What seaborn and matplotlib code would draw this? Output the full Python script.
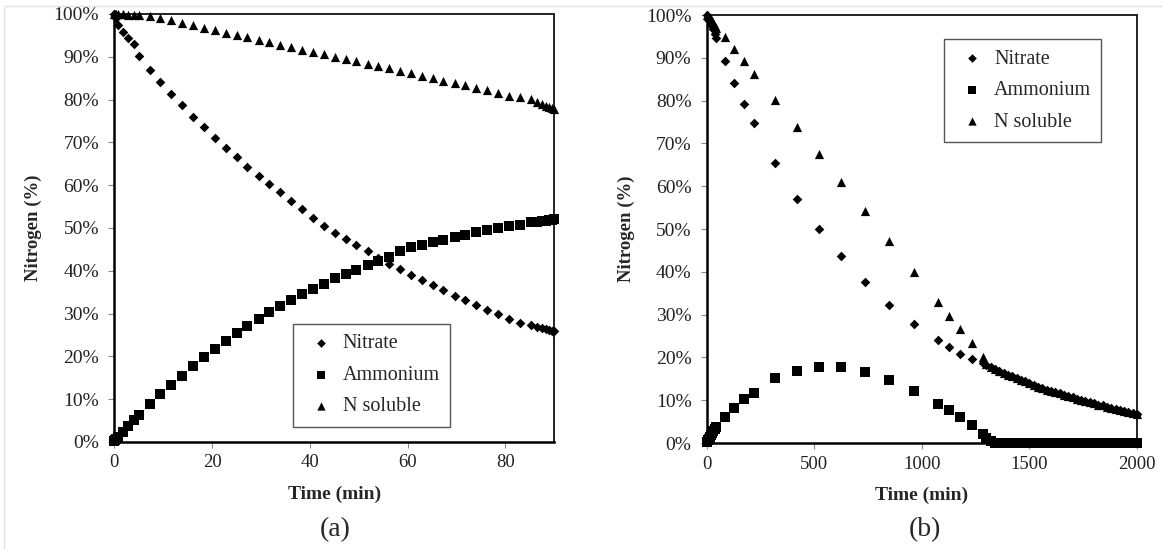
import matplotlib.pyplot as plt
import seaborn as sns
import pandas as pd
from matplotlib.ticker import FuncFormatter
from matplotlib.lines import Line2D

# Panel (a): short run, 0-90 min
time_a = [0, 0.2, 0.4, 0.7, 1.8, 2.9, 4.0, 5.0, 7.2, 9.4,
          11.6, 13.8, 16.1, 18.3, 20.5, 22.8, 25.0, 27.2, 29.5, 31.7,
          33.9, 36.1, 38.4, 40.6, 42.8, 45.1, 47.3, 49.5, 51.8, 54.0,
          56.2, 58.4, 60.7, 62.9, 65.1, 67.3, 69.6, 71.8, 74.0, 76.3,
          78.5, 80.7, 83.0, 85.2, 86.5, 87.5, 88.3, 89.0, 89.6, 90.0]
nitrate_a = [100, 99.6, 99.0, 97.4, 95.8, 94.4, 92.9, 90.1, 87.0, 84.1,
             81.4, 78.8, 76.0, 73.6, 71.0, 68.7, 66.5, 64.3, 62.2, 60.3,
             58.3, 56.3, 54.4, 52.4, 50.5, 48.9, 47.4, 46.0, 44.5, 43.0,
             41.6, 40.3, 39.0, 37.8, 36.6, 35.4, 34.2, 33.1, 32.0, 30.9,
             29.8, 28.8, 27.9, 27.3, 26.9, 26.6, 26.4, 26.2, 26.0, 25.9]
ammonium_a = [0.3, 0.5, 0.8, 1.2, 2.4, 3.8, 5.2, 6.3, 8.8, 11.1,
              13.3, 15.5, 17.7, 19.9, 21.8, 23.6, 25.4, 27.1, 28.8, 30.4,
              31.8, 33.1, 34.5, 35.7, 37.0, 38.2, 39.2, 40.2, 41.3, 42.3,
              43.3, 44.5, 45.5, 46.1, 46.7, 47.3, 47.9, 48.4, 49.0, 49.5,
              50.0, 50.5, 50.8, 51.3, 51.5, 51.6, 51.7, 51.8, 51.9, 52.0]
soluble_a = [100, 100, 99.9, 99.9, 99.9, 99.8, 99.8, 99.7, 99.5, 99.1,
             98.6, 98.0, 97.4, 96.8, 96.2, 95.6, 95.0, 94.5, 94.0, 93.4,
             92.8, 92.2, 91.6, 91.1, 90.6, 90.0, 89.4, 88.9, 88.3, 87.8,
             87.3, 86.7, 86.1, 85.5, 85.0, 84.4, 83.8, 83.3, 82.8, 82.2,
             81.6, 80.9, 80.5, 80.1, 79.4, 79.0, 78.6, 78.3, 78.0, 77.8]

# Panel (b): long run, 0-2000 min
time_b = [0, 5, 10, 15, 20, 25, 30, 40, 45, 85,
          128, 173, 218, 317, 421, 523, 624, 737, 849, 962,
          1074, 1127, 1177, 1231, 1285,
          1300, 1320, 1340, 1360, 1380, 1400, 1420, 1440, 1460, 1480,
          1500, 1520, 1540, 1560, 1580, 1600, 1620, 1640, 1660, 1680,
          1700, 1720, 1740, 1760, 1780, 1800, 1820, 1840, 1860, 1880,
          1900, 1920, 1940, 1960, 1980, 2000]
nitrate_b = [100, 99.5, 99.0, 98.5, 98.0, 97.4, 96.8, 95.6, 94.6, 89.2,
             84.2, 79.2, 74.8, 65.4, 57.1, 50.0, 43.7, 37.7, 32.3, 27.8,
             24.0, 22.5, 20.9, 19.6, 18.8,
             18.2, 17.7, 17.2, 16.8, 16.4, 16.0, 15.6, 15.2, 14.8, 14.4,
             14.0, 13.6, 13.2, 12.9, 12.5, 12.2, 11.9, 11.6, 11.3, 11.0,
             10.7, 10.4, 10.1, 9.8, 9.5, 9.3, 9.0, 8.8, 8.5, 8.3,
             8.0, 7.8, 7.6, 7.3, 7.1, 6.9]
ammonium_b = [0.2, 0.6, 1.0, 1.4, 1.9, 2.3, 2.7, 3.3, 3.7, 6.1,
              8.3, 10.2, 11.8, 15.2, 16.9, 17.8, 17.7, 16.6, 14.8, 12.2,
              9.2, 7.7, 6.0, 4.2, 2.2,
              1.2, 0.4, 0.1, 0, 0, 0, 0, 0, 0, 0,
              0, 0, 0, 0, 0, 0, 0, 0, 0, 0,
              0, 0, 0, 0, 0, 0, 0, 0, 0, 0,
              0, 0, 0, 0, 0, 0]
soluble_b = [100, 99.8, 99.5, 99.2, 98.9, 98.6, 98.2, 97.5, 97.0, 94.9,
             92.0, 89.2, 86.3, 80.1, 73.8, 67.5, 61.0, 54.1, 47.1, 40.0,
             32.9, 29.7, 26.6, 23.3, 20.2,
             18.4, 17.8, 17.3, 16.8, 16.4, 16.0, 15.6, 15.2, 14.8, 14.4,
             14.0, 13.6, 13.2, 12.9, 12.5, 12.2, 11.9, 11.6, 11.3, 11.0,
             10.7, 10.4, 10.1, 9.8, 9.5, 9.3, 9.0, 8.8, 8.5, 8.3,
             8.0, 7.8, 7.6, 7.3, 7.1, 6.9]

species = ['Nitrate', 'Ammonium', 'N soluble']
markers = {'Nitrate': 'D', 'Ammonium': 's', 'N soluble': '^'}
sizes = {'Nitrate': 24, 'Ammonium': 44, 'N soluble': 44}


def make_frame(time, nitrate, ammonium, soluble):
    frames = []
    for name, values in zip(species, [nitrate, ammonium, soluble]):
        frames.append(pd.DataFrame({'time': time, 'nitrogen': values,
                                    'species': name}))
    return pd.concat(frames, ignore_index=True)


def plot_panel(ax, df, xmax, xticks, legend_anchor, legend_loc):
    for name in species:
        sub = df[df['species'] == name]
        sns.scatterplot(data=sub, x='time', y='nitrogen', ax=ax,
                        marker=markers[name], s=sizes[name], color='black',
                        edgecolor='black', linewidth=0, label=name,
                        clip_on=False, zorder=3)
    ax.set_xlim(0, xmax)
    ax.set_ylim(0, 100)
    ax.set_xticks(xticks)
    ax.set_yticks(range(0, 101, 10))
    ax.yaxis.set_major_formatter(FuncFormatter(lambda v, p: f'{v:.0f}%'))
    ax.set_xlabel('Time (min)', fontsize=14, fontweight='bold', labelpad=10)
    ax.set_ylabel('Nitrogen (%)', fontsize=13.5, fontweight='bold',
                  labelpad=8)
    ax.tick_params(axis='both', direction='out', length=4, width=0.8,
                   color='#888888', labelcolor='#222222')
    ax.tick_params(axis='y', pad=7, labelsize=14)
    ax.tick_params(axis='x', pad=5, labelsize=13.5)
    for side in ['left', 'bottom']:
        ax.spines[side].set_linewidth(1.8)
        ax.spines[side].set_color('black')
    for side in ['top', 'right']:
        ax.spines[side].set_visible(True)
        ax.spines[side].set_linewidth(1.4)
        ax.spines[side].set_color('#222222')

    leg = ax.legend(loc=legend_loc, bbox_to_anchor=legend_anchor,
                    fontsize=14.5, frameon=True, fancybox=False,
                    edgecolor='#555555', borderpad=0.5, handlelength=1.8,
                    handletextpad=0.2, labelspacing=0.62, markerscale=0.9,
                    borderaxespad=0)
    leg.get_frame().set_linewidth(1.0)
    leg.get_frame().set_alpha(1)


def main():
    sns.set_style('ticks')
    plt.rcParams['font.family'] = ['Liberation Serif', 'DejaVu Serif']

    df_a = make_frame(time_a, nitrate_a, ammonium_a, soluble_a)
    df_b = make_frame(time_b, nitrate_b, ammonium_b, soluble_b)

    fig = plt.figure(figsize=(11.63, 5.49), dpi=100)
    ax_a = fig.add_axes([0.0983, 0.195, 0.3783, 0.7796])
    ax_b = fig.add_axes([0.6077, 0.193, 0.3700, 0.7796])

    plot_panel(ax_a, df_a, 90, [0, 20, 40, 60, 80],
               (0.405, 0.036), 'lower left')
    plot_panel(ax_b, df_b, 2000, [0, 500, 1000, 1500, 2000],
               (0.551, 0.943), 'upper left')

    fig.text(335 / 1163, 1 - 530 / 549, '(a)', ha='center', va='center',
             fontsize=20)
    fig.text(925 / 1163, 1 - 530 / 549, '(b)', ha='center', va='center',
             fontsize=20)

    # faint page frame lines seen in the source image
    fig.add_artist(Line2D([4 / 1163, 1], [1 - 6 / 549] * 2,
                          color='#e4e4e4', lw=1))
    fig.add_artist(Line2D([4 / 1163] * 2, [0, 1 - 6 / 549],
                          color='#e4e4e4', lw=1))

    fig.savefig('out.png', dpi=100)


if __name__ == "__main__":
    main()
